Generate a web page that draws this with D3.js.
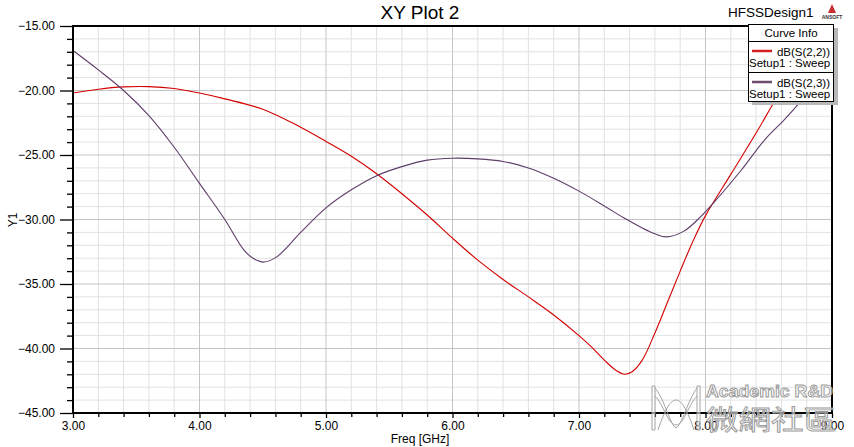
<!DOCTYPE html>
<html><head><meta charset="utf-8">
<script src="https://cdn.jsdelivr.net/npm/d3@7"></script>
<style>
html,body{margin:0;padding:0;background:#fff;}
svg{display:block;font-family:"Liberation Sans",Arial,sans-serif;}
</style></head>
<body>
<svg id="chart" width="854" height="447"></svg>
<script>
// ---- data ----
const freqS22 = [3.0,3.2,3.4,3.6,3.8,4.0,4.2,4.5,4.8,5.0,5.2,5.4,5.6,5.8,6.0,6.2,6.4,6.6,6.8,7.0,7.1,7.2,7.3,7.36,7.42,7.5,7.6,7.7,7.8,7.9,8.0,8.2,8.4,8.56,8.75,9.0];
const dbS22   = [-20.2,-19.9,-19.72,-19.7,-19.85,-20.2,-20.65,-21.45,-22.85,-23.95,-25.1,-26.45,-28.0,-29.65,-31.45,-33.15,-34.65,-36.0,-37.4,-39.0,-39.9,-40.9,-41.75,-42.0,-41.8,-40.9,-38.8,-36.4,-34.0,-31.7,-29.7,-26.5,-23.3,-20.6,-17.6,-14.6];
const freqS23 = [3.0,3.2,3.4,3.6,3.8,4.0,4.2,4.35,4.43,4.51,4.61,4.8,5.0,5.2,5.4,5.6,5.8,6.0,6.2,6.4,6.6,6.8,7.0,7.2,7.35,7.5,7.6,7.69,7.83,7.96,8.06,8.28,8.47,8.62,8.74,9.0];
const dbS23   = [-16.9,-18.4,-20.0,-21.95,-24.4,-27.2,-30.0,-32.35,-33.05,-33.3,-32.9,-31.0,-29.1,-27.7,-26.6,-25.9,-25.4,-25.25,-25.3,-25.5,-26.0,-26.8,-27.8,-28.95,-29.85,-30.65,-31.1,-31.35,-30.9,-29.8,-28.75,-26.2,-23.8,-22.3,-21.0,-18.2];
const seriesNames = ["dB(S(2,2))","dB(S(2,3))"];
const setupLabel = "Setup1 : Sweep";
const xMajorTicks = [3,4,5,6,7,8,9];
const yMajorTicks = [-45,-40,-35,-30,-25,-20,-15];
const titleText = "XY Plot 2";
const designText = "HFSSDesign1";
const xLabel = "Freq [GHz]";
const yLabel = "Y1";

// ---- layout ----
const svg = d3.select("#chart");
const L = 73, R = 832, T = 26, B = 413;
const x = d3.scaleLinear().domain([3,9]).range([L,R]);
const y = d3.scaleLinear().domain([-45,-15]).range([B,T]);
const colors = ["#d40000","#5e3d68"];

svg.append("rect").attr("width",854).attr("height",447).attr("fill","#fff");

// grid
const xMinor = d3.range(0,31).map(i=>3+i*0.2).filter(v=>Math.abs(v-Math.round(v))>1e-6);
const yMinor = d3.range(0,31).map(i=>-45+i).filter(v=>Math.abs(v%5)>1e-6);
const g = svg.append("g");
g.selectAll(".xmin").data(xMinor).join("line")
  .attr("x1",d=>x(d)).attr("x2",d=>x(d)).attr("y1",T).attr("y2",B)
  .attr("stroke","#e2e2e2").attr("stroke-width",1);
g.selectAll(".ymin").data(yMinor).join("line")
  .attr("x1",L).attr("x2",R).attr("y1",d=>y(d)).attr("y2",d=>y(d))
  .attr("stroke","#e2e2e2").attr("stroke-width",1);
g.selectAll(".xmaj").data(xMajorTicks).join("line")
  .attr("x1",d=>x(d)).attr("x2",d=>x(d)).attr("y1",T).attr("y2",B)
  .attr("stroke","#c4c4c4").attr("stroke-width",1);
g.selectAll(".ymaj").data(yMajorTicks).join("line")
  .attr("x1",L).attr("x2",R).attr("y1",d=>y(d)).attr("y2",d=>y(d))
  .attr("stroke","#c4c4c4").attr("stroke-width",1);

// curves
svg.append("clipPath").attr("id","clip").append("rect")
  .attr("x",L).attr("y",T).attr("width",R-L).attr("height",B-T);
const line = d3.line().x(d=>x(d[0])).y(d=>y(d[1])).curve(d3.curveCatmullRom.alpha(0.5));
const s22 = freqS22.map((f,i)=>[f,dbS22[i]]);
const s23 = freqS23.map((f,i)=>[f,dbS23[i]]);
const cg = svg.append("g").attr("clip-path","url(#clip)");
[s22,s23].forEach((s,i)=>{
  cg.append("path").datum(s).attr("d",line).attr("fill","none")
    .attr("stroke",colors[i]).attr("stroke-width",1.1);
});

// axes
const fmt = d3.format(".2f");
const yAx = svg.append("g").attr("transform",`translate(${L},0)`)
  .call(d3.axisLeft(y).tickValues(yMajorTicks).tickSize(13).tickPadding(5).tickFormat(fmt));
const yAxMin = svg.append("g").attr("transform",`translate(${L},0)`)
  .call(d3.axisLeft(y).tickValues(yMinor).tickSize(6).tickFormat(""));
const xAx = svg.append("g").attr("transform",`translate(0,${B})`)
  .call(d3.axisBottom(x).tickValues(xMajorTicks).tickSize(5).tickPadding(3).tickFormat(fmt));
const xAxMin = svg.append("g").attr("transform",`translate(0,${B})`)
  .call(d3.axisBottom(x).tickValues(xMinor).tickSize(4).tickFormat(""));
[yAx,yAxMin,xAx,xAxMin].forEach(a=>{
  a.select(".domain").remove();
  a.selectAll(".tick line").attr("stroke","#000").attr("stroke-width",1.3);
  a.selectAll("text").attr("font-size",12).attr("fill","#000")
    .attr("font-family","'Liberation Sans',Arial,sans-serif");
});

// frame
svg.append("rect").attr("x",L).attr("y",T).attr("width",R-L).attr("height",B-T)
  .attr("fill","none").attr("stroke","#000").attr("stroke-width",2);

// titles
svg.append("text").attr("x",420).attr("y",19).attr("text-anchor","middle")
  .attr("font-size",19).attr("fill","#000").text(titleText);
svg.append("text").attr("x",728).attr("y",17).attr("font-size",13.5).attr("fill","#000").text(designText);
// ansoft logo
svg.append("path").attr("d","M832,4 L836,13 L828,13 Z").attr("fill","#c83030");
svg.append("text").attr("x",832).attr("y",19).attr("text-anchor","middle")
  .attr("font-size",5).attr("font-weight","bold").attr("fill","#333").text("ANSOFT");
svg.append("text").attr("x",420).attr("y",443).attr("text-anchor","middle")
  .attr("font-size",12).attr("fill","#000").text(xLabel);
svg.append("text").attr("transform","translate(17,220) rotate(-90)").attr("text-anchor","middle")
  .attr("font-size",12).attr("fill","#000").text(yLabel);

// legend
const lg = svg.append("g");
lg.append("rect").attr("x",752).attr("y",28).attr("width",86).attr("height",77).attr("fill","#b8b8b8");
lg.append("rect").attr("x",748.5).attr("y",24.5).attr("width",85).attr("height",77)
  .attr("fill","#fff").attr("stroke","#000").attr("stroke-width",1);
lg.append("text").attr("x",791).attr("y",37).attr("text-anchor","middle").attr("font-size",11.5).text("Curve Info");
[41.5,72.5].forEach(yy=>lg.append("line").attr("x1",748.5).attr("x2",833.5).attr("y1",yy).attr("y2",yy).attr("stroke","#000"));
seriesNames.forEach((n,i)=>{
  const y0 = 41.5 + i*31;
  lg.append("line").attr("x1",752).attr("x2",772).attr("y1",y0+9.5).attr("y2",y0+9.5)
    .attr("stroke",i===0?"#d42020":"#6e4c6e").attr("stroke-width",2.5);
  lg.append("text").attr("x",830).attr("y",y0+14).attr("text-anchor","end").attr("font-size",11.5).text(n);
  lg.append("text").attr("x",749).attr("y",y0+25).attr("font-size",11.5).text(setupLabel);
});

// watermark
const wm = svg.append("g").attr("fill","rgba(255,255,255,0.55)").attr("stroke","#9a9a9a").attr("stroke-width",0.9);
wm.append("path").attr("d","M652,430 L652,386 L655,386 L655,430 Z M697,430 L697,386 L700,386 L700,430 Z");
wm.append("path").attr("fill","none")
  .attr("d","M655,388 C665,400 670,425 676,428 C682,425 688,400 697,388 M655,396 C664,405 668,425 676,425 C684,425 688,405 697,396 M658,430 C664,412 670,400 676,400 C682,400 688,412 694,430");
wm.append("text").attr("x",706).attr("y",397).attr("font-size",16).attr("font-weight","bold")
  .attr("textLength",127).attr("lengthAdjust","spacingAndGlyphs").text("Academic R&D");
wm.append("text").attr("x",706).attr("y",430).attr("font-size",27)
  .attr("font-family","'Noto Sans CJK TC',sans-serif")
  .attr("textLength",130).attr("lengthAdjust","spacingAndGlyphs").text("微網社區");
</script>
</body></html>
